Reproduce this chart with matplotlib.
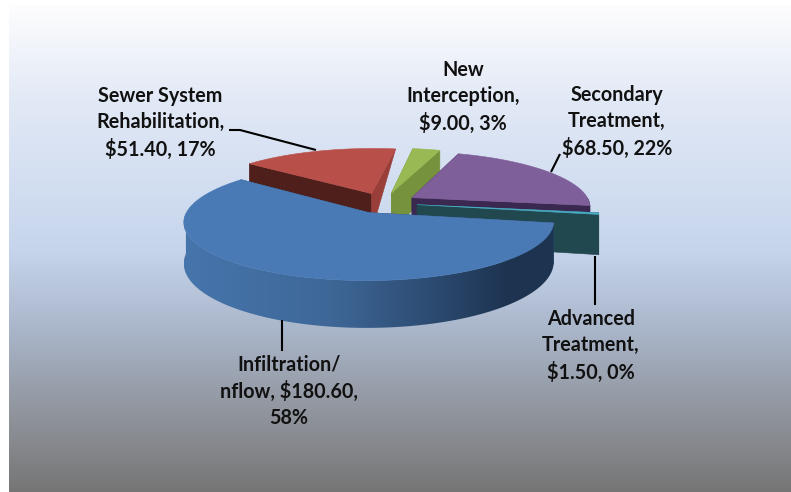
import numpy as np
import matplotlib
matplotlib.use("Agg")
import matplotlib.pyplot as plt
from matplotlib.patches import Polygon
from matplotlib.colors import to_rgb, LinearSegmentedColormap

categories = ["Infiltration/nflow", "Sewer System Rehabilitation", "New Interception",
              "Secondary Treatment", "Advanced Treatment"]
values = [180.60, 51.40, 9.00, 68.50, 1.50]
labels = ["Infiltration/\nnflow, $180.60,\n58%", "Sewer System\nRehabilitation,\n$51.40, 17%",
          "New\nInterception,\n$9.00, 3%", "Secondary\nTreatment,\n$68.50, 22%",
          "Advanced\nTreatment,\n$1.50, 0%"]
top_colors = ["#4a7ab5", "#b94f49", "#98b954", "#7f5f9a", "#4bacc6"]
start_wall = ["#2a4a70", "#4f1f1b", "#76923c", "#3a2850", "#21474f"]
end_wall = ["#2a4a70", "#9a3e3a", "#76923c", "#3a2850", "#21474f"]
rim_colors = ["#2a4a70", "#6e2b28", "#76923c", "#3a2850", "#21474f"]
taper_end_wall = [False, True, False, False, False]

W, H = 791, 492
cx, cy, R, A, D, k, explode = 383.5, 203, 178, 54.5, 39, 0.15, 0.19
first_angle = 10.0


def proj(X, Y, z=0.0):
    s = 1 / (1 - k * np.asarray(Y))
    return cx + R * np.asarray(X) * s, cy + A * np.asarray(Y) * s + D * z * s


fig = plt.figure(figsize=(W / 100, H / 100), dpi=100)
ax = fig.add_axes([0, 0, 1, 1])
ax.set_xlim(0, W)
ax.set_ylim(H, 0)
ax.axis("off")

# background gradient
ys = np.arange(5, H)
stops_y = [5, 100, 250, 330, 420, 492]
stops_c = np.array([to_rgb(c) for c in ["#fdfdfe", "#e2e9f6", "#c6d5ec", "#a9b5c9", "#8e9299", "#757575"]])
grad = np.stack([np.interp(ys, stops_y, stops_c[:, i]) for i in range(3)], axis=1)[:, None, :]
ax.imshow(grad, extent=(9, W, H, 5), aspect="auto", zorder=0, interpolation="bilinear")
ax.set_xlim(0, W)
ax.set_ylim(H, 0)

total = sum(values)
bounds = first_angle + np.concatenate([[0], np.cumsum(values)]) / total * 360
blue_cmap = LinearSegmentedColormap.from_list(
    "side", [(0, "#4675ac"), (0.4, "#3e6797"), (0.68, "#2c4a70"), (0.88, "#1d3350"), (1, "#1e3552")])


def poly(pts_x, pts_y, color, z):
    p = Polygon(np.column_stack([pts_x, pts_y]), closed=True, facecolor=color,
                edgecolor=color, linewidth=0.4, zorder=z)
    ax.add_patch(p)
    return p


order = [1, 2, 3, 4, 0]
for rank, i in enumerate(order):
    a0, a1 = np.radians(bounds[i]), np.radians(bounds[i + 1])
    mid = (a0 + a1) / 2
    ox, oy = explode * np.cos(mid), explode * np.sin(mid)
    th = np.linspace(a0, a1, 200)
    rx, ry = ox + np.cos(th), oy + np.sin(th)
    z = 2 + rank
    # radial walls
    for ang, col, sub, taper in ((a0, start_wall[i], 0.1, False), (a1, end_wall[i], 0.2, taper_end_wall[i])):
        ex, ey = ox + np.cos(ang), oy + np.sin(ang)
        xs, ys0 = proj(np.array([ox, ex]), np.array([oy, ey]))
        if taper:
            xb, yb = proj(np.array([ox]), np.array([oy]), 1.0)
        else:
            xb, yb = proj(np.array([ex, ox]), np.array([ey, oy]), 1.0)
        poly(np.r_[xs, xb], np.r_[ys0, yb], col, z + sub)
    # rim (front-facing part only)
    vis = np.sin(th) > 0
    if vis.any():
        xt, yt = proj(rx[vis], ry[vis])
        xb, yb = proj(rx[vis], ry[vis], 1.0)
        p = poly(np.r_[xt, xb[::-1]], np.r_[yt, yb[::-1]], rim_colors[i], z + 0.3)
        if i == 0:
            p.set_facecolor("none")
            p.set_edgecolor("none")
            im = ax.imshow(np.linspace(0, 1, 256)[None, :], extent=(xt.min(), xt.max(), H, 0),
                           cmap=blue_cmap, aspect="auto", zorder=z + 0.3)
            im.set_clip_path(p)
    # top surface
    xt, yt = proj(np.r_[ox, rx], np.r_[oy, ry])
    poly(xt, yt, top_colors[i], z + 0.5)
ax.set_xlim(0, W)
ax.set_ylim(H, 0)

# leader lines
leaders = [((282, 282), (320, 351)), ((229, 240, 316), (130, 130, 150)),
           ((560, 551), (154, 172)), ((595, 595), (256, 305))]
for lx, ly in leaders:
    ax.plot(lx, ly, color="black", lw=1.5, zorder=20, solid_capstyle="butt")

# labels
label_pos = [(289, 391), (160, 123), (463, 97), (617, 122), (591, 346)]
for txt, (x, y) in zip(labels, label_pos):
    ax.text(x, y, txt, ha="center", va="center", family="Lato", fontweight="bold",
            fontsize=14.2, linespacing=1.38, color="#111111", zorder=21)

fig.savefig("out.png", dpi=100)
